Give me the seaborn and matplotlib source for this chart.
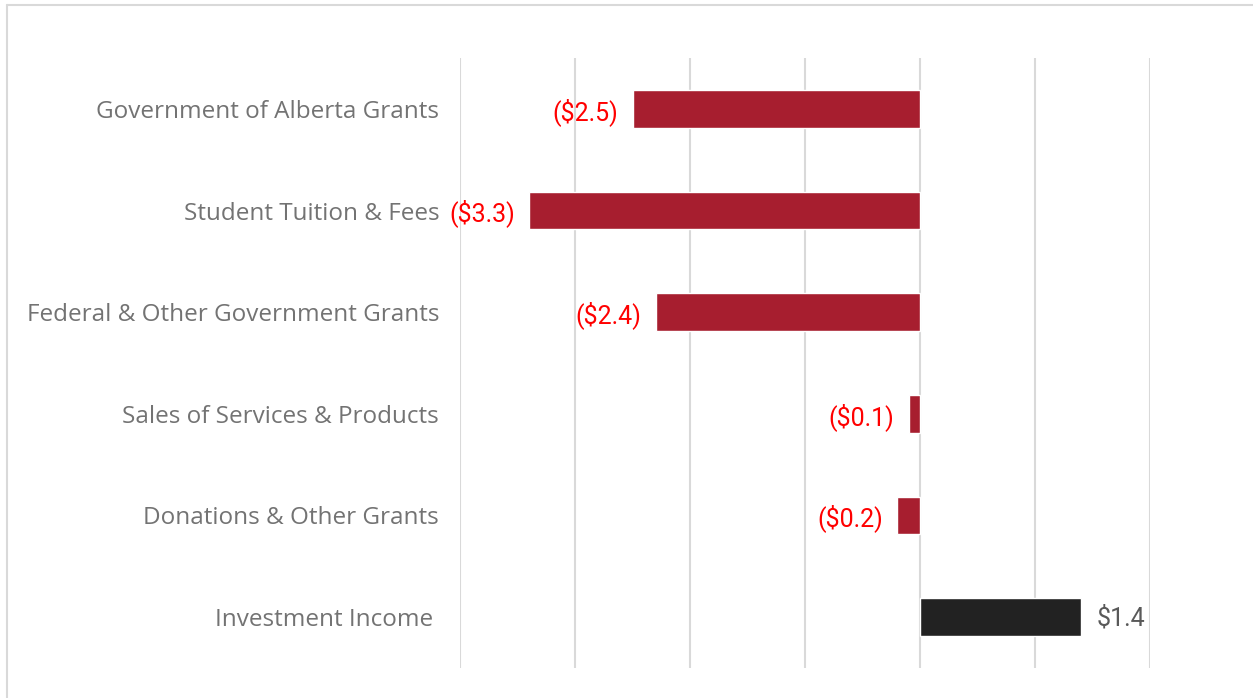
#!/usr/bin/env python3
"""
Horizontal bar chart of revenue changes by source ($ millions).
"""

import pandas as pd
import matplotlib.pyplot as plt
import seaborn as sns
from matplotlib.lines import Line2D

# Data
categories = [
    'Government of Alberta Grants',
    'Student Tuition & Fees',
    'Federal & Other Government Grants',
    'Sales of Services & Products',
    'Donations & Other Grants',
    'Investment Income ',
]
values = [-2.5, -3.4, -2.3, -0.1, -0.2, 1.4]
value_labels = ['($2.5)', '($3.3)', '($2.4)', '($0.1)', '($0.2)', '$1.4']
x_ticks = [-4, -3, -2, -1, 0, 1, 2]

NEG_COLOR = '#A71E2F'
POS_COLOR = '#222222'


def plot_chart():
    sns.set_theme(style='white')
    plt.rcParams['font.family'] = ['Open Sans', 'DejaVu Sans']

    df = pd.DataFrame({'category': categories, 'value': values})
    colors = [NEG_COLOR if v < 0 else POS_COLOR for v in values]

    fig = plt.figure(figsize=(12.53, 6.98), dpi=100)
    ax = fig.add_axes([460 / 1253, 30 / 698, 690 / 1253, 610 / 698])

    sns.barplot(data=df, x='value', y='category', hue='category',
                palette=colors, orient='h', width=0.37, legend=False,
                saturation=1, ax=ax)

    ax.set_xlim(x_ticks[0], x_ticks[-1])
    ax.set_ylim(len(categories) - 0.5, -0.5)
    ax.set_xticks(x_ticks)
    ax.set_xticklabels([])
    ax.xaxis.grid(True, color='#D9D9D9', linewidth=1.5)
    ax.set_axisbelow(True)
    ax.tick_params(axis='both', length=0)
    ax.tick_params(axis='y', pad=15, labelsize=17.5, labelcolor='#737373')
    for s in ax.spines.values():
        s.set_visible(False)
    ax.set_xlabel('')
    ax.set_ylabel('')

    # value labels next to bar ends
    for i, (v, lab) in enumerate(zip(values, value_labels)):
        if v < 0:
            ax.annotate(lab, (v, i), xytext=(-10, -2), textcoords='offset points',
                        ha='right', va='center', fontsize=18, color='#FF0000',
                        family=['Roboto', 'DejaVu Sans'])
        else:
            ax.annotate(lab, (v, i), xytext=(11, -1), textcoords='offset points',
                        ha='left', va='center', fontsize=18, color='#595959',
                        family=['Roboto', 'DejaVu Sans'])

    # thin frame on the top and left edges
    fig.add_artist(Line2D([6.5 / 1253, 1], [1 - 5 / 698, 1 - 5 / 698],
                          transform=fig.transFigure, color='#D9D9D9', linewidth=1.5))
    fig.add_artist(Line2D([6.5 / 1253, 6.5 / 1253], [0, 1 - 5 / 698],
                          transform=fig.transFigure, color='#D9D9D9', linewidth=1.5))

    return fig


def main():
    fig = plot_chart()
    fig.savefig('out.png', dpi=100)
    plt.close(fig)


if __name__ == "__main__":
    main()
